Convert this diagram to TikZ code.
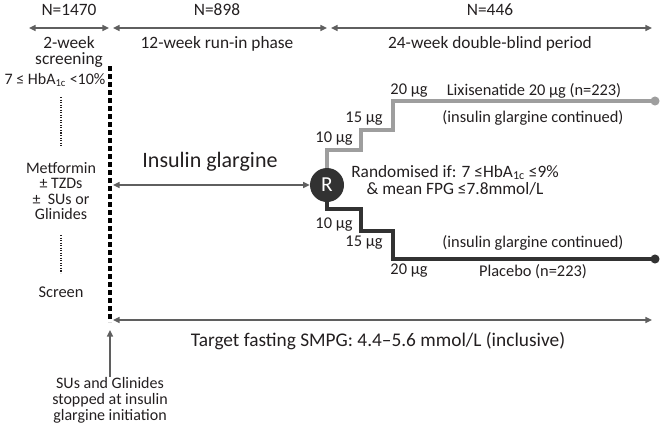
\documentclass[tikz,border=0pt]{standalone}
\usepackage{fontspec}
\setmainfont{Carlito}
\usetikzlibrary{arrows.meta, positioning}
\definecolor{arrowgray}{RGB}{95,95,95}
\definecolor{lixigray}{RGB}{158,158,158}
\definecolor{placebodark}{RGB}{50,50,50}
\definecolor{inkblack}{RGB}{35,31,32}
\newcommand{\diagfont}{\fontsize{12.3}{12.5}\selectfont}

\begin{document}
\begin{tikzpicture}[
    x=0.75pt, y=-0.75pt,
    txt/.style={font=\diagfont, text=inkblack, inner sep=0pt, align=center},
    headtxt/.style={txt, font=\fontsize{13}{12}\selectfont},
    biglabel/.style={font=\fontsize{16.5}{17}\selectfont, text=inkblack, inner sep=0pt},
    dimarrow/.style={{Triangle[length=5pt,width=4.5pt]}-{Triangle[length=5pt,width=4.5pt]}, line width=1.1pt, draw=arrowgray},
    uparrow/.style={-{Triangle[length=5pt,width=4.5pt]}, line width=1.1pt, draw=arrowgray},
    dotline/.style={draw=inkblack, line width=0.9pt, dash pattern=on 0.8pt off 1.1pt},
    startline/.style={draw=black, line width=2.6pt, dash pattern=on 3.75pt off 2.25pt},
    lixi/.style={draw=lixigray, line width=3pt, line join=miter},
    placebo/.style={draw=placebodark, line width=3pt, line join=miter},
    enddot/.style={circle, inner sep=0pt, minimum size=6.8pt},
    randnode/.style={circle, fill=placebodark, text=white, inner sep=0pt, minimum size=25.5pt, font=\fontsize{16}{16}\selectfont}
]
\useasboundingbox (0,0) rectangle (661,425);

% Header: phases
\node[headtxt] (n1) at (69,10) {N=1470};
\node[headtxt] (n2) at (217,10) {N=898};
\node[headtxt] (n3) at (490,10) {N=446};
\coordinate (t0) at (29,28);
\coordinate (t1) at (109,28);
\coordinate (t2) at (113,28);
\coordinate (t3) at (327,28);
\coordinate (t4) at (331,28);
\coordinate (t5) at (652,28);
\draw[dimarrow] (t0) -- (t1);
\draw[dimarrow] (t2) -- (t3);
\draw[dimarrow] (t4) -- (t5);
\node[headtxt] (p1) at (69,52) {2-week\\screening};
\node[headtxt] (p2) at (217,44) {12-week run-in phase};
\node[headtxt] (p3) at (490,44) {24-week double-blind period};

% Screening column
\node[txt, font=\fontsize{12}{12}\selectfont] (hba) at (55,80) {7 ≤ HbA\textsubscript{1c} <10\%};
\coordinate (dt1) at (61,97);
\coordinate (db1) at (61,147);
\draw[dotline] (dt1) -- (db1);
\node[txt, font=\fontsize{12}{11.5}\selectfont] (met) at (61,191) {Metformin\\± TZDs\\± \ SUs or\\Glinides};
\coordinate (dt2) at (61,235);
\coordinate (db2) at (61,273);
\draw[dotline] (dt2) -- (db2);
\node[txt] (screen) at (61,292) {Screen};

% Start of insulin glargine
\coordinate (stop) at (110,66);
\coordinate (sbot) at (110,322);
\draw[startline] (stop) -- (sbot);

% Run-in and randomisation
\node[randnode] (R) at (327,185) {R};
\coordinate (ig0) at (113,185);
\draw[dimarrow] (ig0) -- (R.west);
\node[biglabel] (ig) at (210,162) {Insulin glargine};
\node[txt, font=\fontsize{13}{12.75}\selectfont] (rand) at (455,180) {Randomised if: 7 ≤HbA\textsubscript{1c} ≤9\%\\\& mean FPG ≤7.8mmol/L};

% Lixisenatide arm
\node[enddot, fill=lixigray] (lxend) at (655,101) {};
\coordinate (lx1) at (361,150);
\coordinate (lx2) at (393,130);
\draw[lixi] (R.north) |- (lx1) |- (lx2) |- (lxend.center);
\node[txt] (lxd1) at (334,139) {10 µg};
\node[txt] (lxd2) at (364,119) {15 µg};
\node[txt] (lxd3) at (409,91) {20 µg};
\node[txt] (lxname) at (534,91) {Lixisenatide 20 µg (n=223)};
\node[txt] (lxcont) at (533,118) {(insulin glargine continued)};

% Placebo arm
\node[enddot, fill=placebodark] (plend) at (655,259) {};
\coordinate (pl1) at (361,209);
\coordinate (pl2) at (393,231);
\draw[placebo] (R.south) |- (pl1) |- (pl2) |- (plend.center);
\node[txt] (pld1) at (334,225) {10 µg};
\node[txt] (pld2) at (364,243) {15 µg};
\node[txt] (pld3) at (409,271) {20 µg};
\node[txt] (plcont) at (533,243) {(insulin glargine continued)};
\node[txt] (plname) at (533,272) {Placebo (n=223)};

% Titration target
\coordinate (tg0) at (113,320);
\coordinate (tg1) at (652,320);
\draw[dimarrow] (tg0) -- (tg1);
\node[txt, font=\fontsize{14.5}{15}\selectfont] (target) at (378,341) {Target fasting SMPG: 4.4–5.6 mmol/L (inclusive)};

% Stopped medication
\node[txt, font=\fontsize{12}{12}\selectfont] (sus) at (110,400) {SUs and Glinides\\stopped at insulin\\glargine initiation};
\coordinate (suarrow) at (110,330);
\draw[uparrow] (sus.north) -- (suarrow);

\end{tikzpicture}
\end{document}
